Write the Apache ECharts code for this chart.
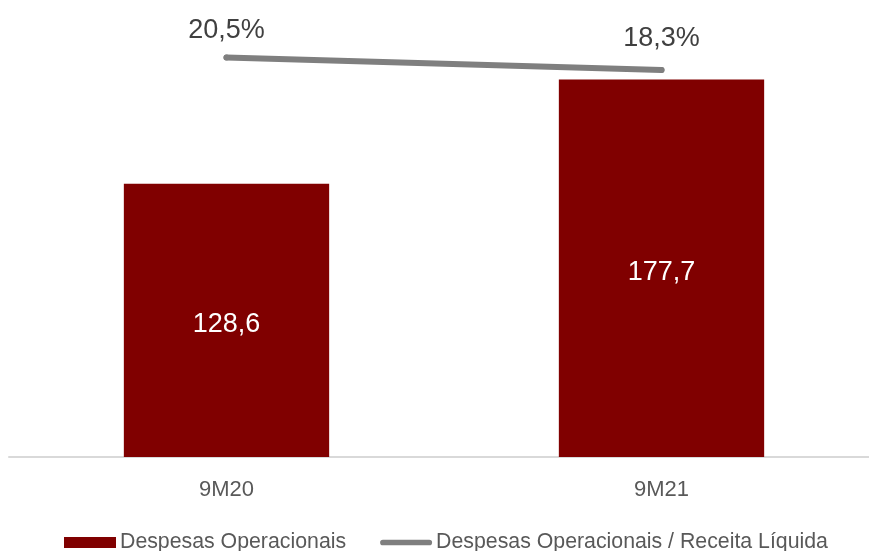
<!DOCTYPE html>
<html>
<head>
<meta charset="utf-8">
<script src="https://cdn.jsdelivr.net/npm/echarts@6/dist/echarts.min.js"></script>
<style>
  html, body { margin: 0; padding: 0; background: #fff; overflow: hidden; }
  #wrap { width: 869px; height: 551px; overflow: hidden; }
  #chart { width: 879px; height: 551px; }
</style>
</head>
<body>
<div id="wrap"><div id="chart"></div></div>
<script>
// Operating expenses (bars) and expenses as share of net revenue (line)
const categories = ['9M20', '9M21'];
const despesas = [128.6, 177.7];
const despesasSobreReceita = [20.5, 18.3];
const seriesNames = ['Despesas Operacionais', 'Despesas Operacionais / Receita Líquida'];

const FONT = "'Liberation Sans', Arial, sans-serif";
const fmt = (v, d) => v.toFixed(d).replace('.', ',');

// legend swatches: a solid block for the bars, a thick rounded stroke for the line
const barIcon = 'path://M0,0 L52,0 L52,11 L0,11 Z';
const lineIcon = 'path://M3,0 L52,0 A3,3 0 0 1 52,6 L3,6 A3,3 0 0 1 3,0 Z';

// percentage labels sit a little closer to the line on the left end
const labelGap = [10, 15];

const chart = echarts.init(document.getElementById('chart'), null, { renderer: 'canvas' });
chart.setOption({
  animation: false,
  backgroundColor: '#ffffff',
  textStyle: { fontFamily: FONT },
  grid: { left: 9, top: 32, right: 0, bottom: 94, containLabel: false },
  legend: {
    top: 527,
    left: 59,
    itemGap: 34,
    itemWidth: 52,
    itemHeight: 11,
    textStyle: { color: '#595959', fontSize: 21.3, fontFamily: FONT, padding: [0, 0, 0, -1] },
    data: [
      { name: seriesNames[0], icon: barIcon, itemStyle: { color: '#800000' } },
      { name: seriesNames[1], icon: lineIcon, itemStyle: { color: '#7f7f7f' } }
    ]
  },
  xAxis: {
    type: 'category',
    data: categories,
    axisTick: { show: false },
    axisLine: { lineStyle: { color: '#d9d9d9', width: 2 } },
    axisLabel: { color: '#595959', fontSize: 22, margin: 22, fontFamily: FONT }
  },
  yAxis: [
    { type: 'value', min: 0, max: 200, show: false, splitLine: { show: false } },
    { type: 'value', min: -50, max: 25, show: false, splitLine: { show: false } }
  ],
  series: [
    {
      name: seriesNames[0],
      type: 'bar',
      data: despesas,
      barWidth: '47.2%',
      itemStyle: { color: '#800000' },
      label: {
        show: true,
        position: 'inside',
        offset: [0, 4],
        color: '#ffffff',
        fontSize: 27,
        fontFamily: FONT,
        formatter: p => fmt(p.value, 1)
      }
    },
    {
      name: seriesNames[1],
      type: 'line',
      yAxisIndex: 1,
      data: despesasSobreReceita.map((v, i) => ({ value: v, label: { distance: labelGap[i] } })),
      symbol: 'circle',
      symbolSize: 6,
      showSymbol: true,
      lineStyle: { color: '#7f7f7f', width: 6, cap: 'round' },
      itemStyle: { color: '#7f7f7f' },
      label: {
        show: true,
        position: 'top',
        color: '#404040',
        fontSize: 27,
        fontFamily: FONT,
        formatter: p => fmt(p.value, 1) + '%'
      }
    }
  ]
});
</script>
</body>
</html>
